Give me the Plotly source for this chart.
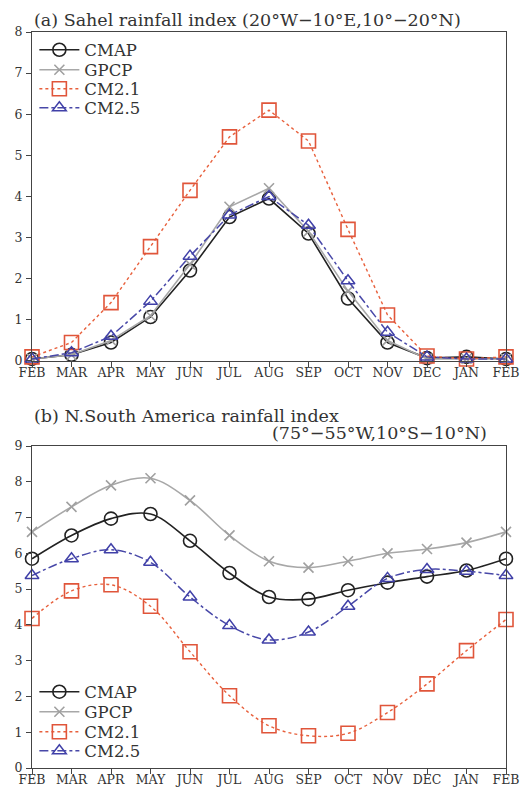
import plotly.graph_objects as go

months = ["FEB", "MAR", "APR", "MAY", "JUN", "JUL", "AUG", "SEP", "OCT", "NOV", "DEC", "JAN", "FEB"]
xpos = list(range(len(months)))

# Panel (a): Sahel rainfall index
sahel_cmap = [0.05, 0.15, 0.45, 1.07, 2.2, 3.5, 3.95, 3.1, 1.52, 0.45, 0.07, 0.1, 0.05]
sahel_gpcp = [0.05, 0.15, 0.5, 1.1, 2.35, 3.75, 4.2, 3.15, 1.7, 0.5, 0.05, 0.05, 0.05]
sahel_cm21 = [0.1, 0.45, 1.42, 2.78, 4.15, 5.45, 6.1, 5.35, 3.2, 1.12, 0.12, 0.05, 0.1]
sahel_cm25 = [0.05, 0.2, 0.6, 1.45, 2.55, 3.55, 4.0, 3.3, 1.95, 0.7, 0.1, 0.05, 0.05]

# Panel (b): N. South America rainfall index
nsa_cmap = [5.85, 6.5, 6.97, 7.1, 6.35, 5.45, 4.78, 4.72, 4.97, 5.18, 5.35, 5.52, 5.85]
nsa_gpcp = [6.6, 7.3, 7.9, 8.1, 7.48, 6.5, 5.78, 5.6, 5.78, 6.0, 6.12, 6.3, 6.6]
nsa_cm21 = [4.18, 4.95, 5.12, 4.52, 3.25, 2.02, 1.18, 0.9, 0.97, 1.55, 2.35, 3.28, 4.15]
nsa_cm25 = [5.38, 5.85, 6.1, 5.75, 4.78, 3.98, 3.58, 3.8, 4.52, 5.3, 5.55, 5.5, 5.38]

names = ["CMAP", "GPCP", "CM2.1", "CM2.5"]
FONT = "DejaVu Serif"
TXT = "#333333"

styles = {
    "CMAP": dict(line=dict(color="#222222", width=1.6, dash="solid"),
                 marker=dict(symbol="circle-open", size=13, color="#222222", line=dict(width=1.6))),
    "GPCP": dict(line=dict(color="#a8a8a8", width=1.6, dash="solid"),
                 marker=dict(symbol="x-thin-open", size=10, color="#a0a0a0", line=dict(width=1.6))),
    "CM2.1": dict(line=dict(color="#e8603c", width=1.4, dash="dot"),
                  marker=dict(symbol="square-open", size=14, color="#e0553a", line=dict(width=1.6))),
    "CM2.5": dict(line=dict(color="#4848a8", width=1.5, dash="dashdot"),
                  marker=dict(symbol="triangle-up-open", size=12, color="#4040a8", line=dict(width=1.5))),
}

# legend row centres (paper coords) for each panel
legend_rows_a = [0.9755, 0.9484, 0.9226, 0.8967]
legend_rows_b = [0.1033, 0.0761, 0.0489, 0.0231]
PANEL_B_TOP = 0.4375

fig = go.Figure()
panels = [
    ("x", "y", [sahel_cmap, sahel_gpcp, sahel_cm21, sahel_cm25], "linear", legend_rows_a, 0),
    ("x2", "y2", [nsa_cmap, nsa_gpcp, nsa_cm21, nsa_cm25], "spline", legend_rows_b, 4),
]
legend_layouts = {}
for xa, ya, series, shape, rows, off in panels:
    for i, (name, vals) in enumerate(zip(names, series)):
        st = styles[name]
        lk = "legend" if off + i == 0 else f"legend{off + i + 1}"
        legend_layouts[lk] = dict(
            x=0.005, y=rows[i], xanchor="left", yanchor="middle", bgcolor="rgba(0,0,0,0)",
            font=dict(family=FONT, size=16.5, color=TXT), itemwidth=40,
        )
        fig.add_trace(go.Scatter(
            x=xpos, y=vals, name=name, mode="lines+markers",
            xaxis=xa, yaxis=ya, legend=lk, cliponaxis=False,
            line=dict(st["line"], shape=shape), marker=st["marker"],
        ))

axis_common = dict(
    showline=True, linecolor="#444444", linewidth=1.2, mirror=True,
    ticks="outside", ticklen=5, tickcolor="#444444", tickwidth=1.2,
    showgrid=False, zeroline=False, automargin=False, ticklabeloverflow="allow",
    tickfont=dict(family=FONT, size=12.5, color=TXT),
)
xaxis_common = dict(axis_common, ticklabelstandoff=-5, range=[0, 12], tickvals=xpos, ticktext=months)
yaxis_common = dict(axis_common, ticklabelstandoff=1)

fig.update_layout(
    width=512, height=784,
    margin=dict(l=24, r=14, t=24, b=24, autoexpand=False),
    paper_bgcolor="white", plot_bgcolor="white",
    showlegend=True,
    xaxis=dict(xaxis_common, domain=[0, 1], anchor="y"),
    yaxis=dict(yaxis_common, domain=[0.553, 1], range=[0, 8], tickvals=list(range(0, 9)), anchor="x"),
    xaxis2=dict(xaxis_common, domain=[0, 1], anchor="y2"),
    yaxis2=dict(yaxis_common, domain=[0, PANEL_B_TOP], range=[0, 9], tickvals=list(range(0, 10)), anchor="x2"),
    annotations=[
        dict(text="(a) Sahel rainfall index (20°W\u221210°E,10°\u221220°N)", xref="paper", yref="paper",
             x=0.0, y=1.0, xanchor="left", yanchor="bottom", yshift=0, showarrow=False,
             font=dict(family=FONT, size=17.5, color=TXT)),
        dict(text="(b) N.South America rainfall index", xref="paper", yref="paper",
             x=0.0, y=PANEL_B_TOP, xanchor="left", yanchor="bottom", yshift=18, showarrow=False,
             font=dict(family=FONT, size=17.5, color=TXT)),
        dict(text="(75°\u221255°W,10°S\u221210°N)", xref="paper", yref="paper",
             x=0.965, y=PANEL_B_TOP, xanchor="right", yanchor="bottom", yshift=1, showarrow=False,
             font=dict(family=FONT, size=17.5, color=TXT)),
    ],
)
fig.update_layout(**legend_layouts)

fig.write_html("out.html")
